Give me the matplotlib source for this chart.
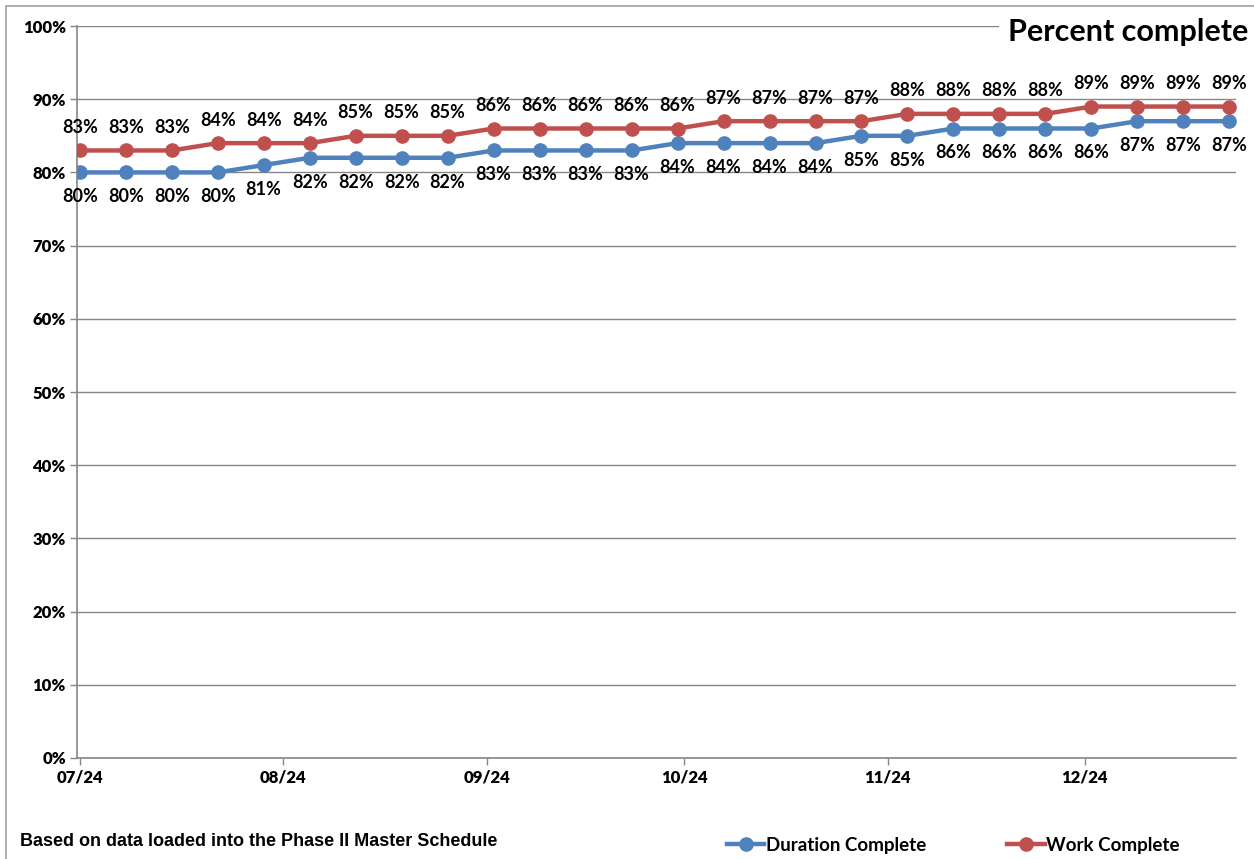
import matplotlib
matplotlib.use("Agg")
import matplotlib.pyplot as plt
import matplotlib.dates as mdates
import numpy as np
import pandas as pd
from matplotlib.patches import Rectangle
from matplotlib.lines import Line2D

# weekly status dates
dates = pd.date_range("2024-07-01", periods=26, freq="7D")
duration = [80, 80, 80, 80, 81, 82, 82, 82, 82, 83, 83, 83, 83,
            84, 84, 84, 84, 85, 85, 86, 86, 86, 86, 87, 87, 87]
work = [83, 83, 83, 84, 84, 84, 85, 85, 85, 86, 86, 86, 86,
        86, 87, 87, 87, 87, 88, 88, 88, 88, 89, 89, 89, 89]
month_ticks = pd.date_range("2024-07-01", "2024-12-01", freq="MS")

blue = "#4F81BD"
red = "#C0504D"
grid = "#868686"
calibri = ["Lato", "DejaVu Sans"]

fig = plt.figure(figsize=(12.54, 8.59), dpi=100)
ax = fig.add_axes([0.0614, 0.1176, 0.9242, 0.8521])

d = np.array([v / 100 for v in duration])
w = np.array([v / 100 for v in work])

ax.plot(dates, d, color=blue, lw=3.2, marker="o", ms=9.5, zorder=3)
ax.plot(dates, w, color=red, lw=3.2, marker="o", ms=9.5, zorder=3)

for x, v in zip(dates, duration):
    ax.annotate(f"{v}%", (x, v / 100), xytext=(0, -17.5), textcoords="offset points",
                ha="center", va="center", fontsize=13, fontweight="bold", family=calibri)
for x, v in zip(dates, work):
    ax.annotate(f"{v}%", (x, v / 100), xytext=(0, 16.5), textcoords="offset points",
                ha="center", va="center", fontsize=13, fontweight="bold", family=calibri)

ax.set_ylim(0, 1)
ax.set_yticks(np.arange(0, 1.01, 0.1))
ax.set_yticklabels([f"{int(round(t * 100))}%" for t in np.arange(0, 1.01, 0.1)])
ax.set_xlim(pd.Timestamp("2024-06-30 14:00"), pd.Timestamp("2024-12-24 00:00"))
ax.set_xticks(month_ticks)
ax.xaxis.set_major_formatter(mdates.DateFormatter("%m/%y"))

ax.grid(axis="y", color=grid, lw=1)
ax.set_axisbelow(True)
for s in ["top", "right"]:
    ax.spines[s].set_visible(False)
for s in ["left", "bottom"]:
    ax.spines[s].set_color(grid)
    ax.spines[s].set_linewidth(1.2)
ax.tick_params(axis="both", color=grid, length=5, width=1, direction="out")
ax.tick_params(axis="y", pad=3)
ax.tick_params(axis="x", pad=3)
for lab in ax.get_xticklabels() + ax.get_yticklabels():
    lab.set_fontsize(12)
    lab.set_fontweight("heavy")
    lab.set_family(calibri)

# outer chart border
fig.patches.append(Rectangle((6 / 1254, -0.1), 1.2, 1 - 6 / 859 + 0.1,
                             transform=fig.transFigure, fill=False,
                             edgecolor="#A0A0A0", lw=1.2))

fig.text(0.9952, 0.963, "Percent complete", ha="right", va="center",
         fontsize=22, fontweight="bold", family=calibri,
         bbox=dict(facecolor="white", edgecolor="none", pad=6))

fig.text(20 / 1254, 1 - 841 / 859, "Based on data loaded into the Phase II Master Schedule",
         ha="left", va="center", fontsize=13, fontweight="bold", family="Liberation Sans")

handles = [Line2D([], [], color=blue, lw=3.2, marker="o", ms=9.5),
           Line2D([], [], color=red, lw=3.2, marker="o", ms=9.5)]
leg = fig.legend(handles, ["Duration Complete", "Work Complete"], loc="center left",
                 bbox_to_anchor=(710 / 1254, 1 - 845 / 859), ncol=2, frameon=False,
                 handlelength=2.0, handletextpad=0.1, columnspacing=4.3,
                 prop=dict(family=calibri, weight="bold", size=13.5))

fig.savefig("out.png", dpi=100)
